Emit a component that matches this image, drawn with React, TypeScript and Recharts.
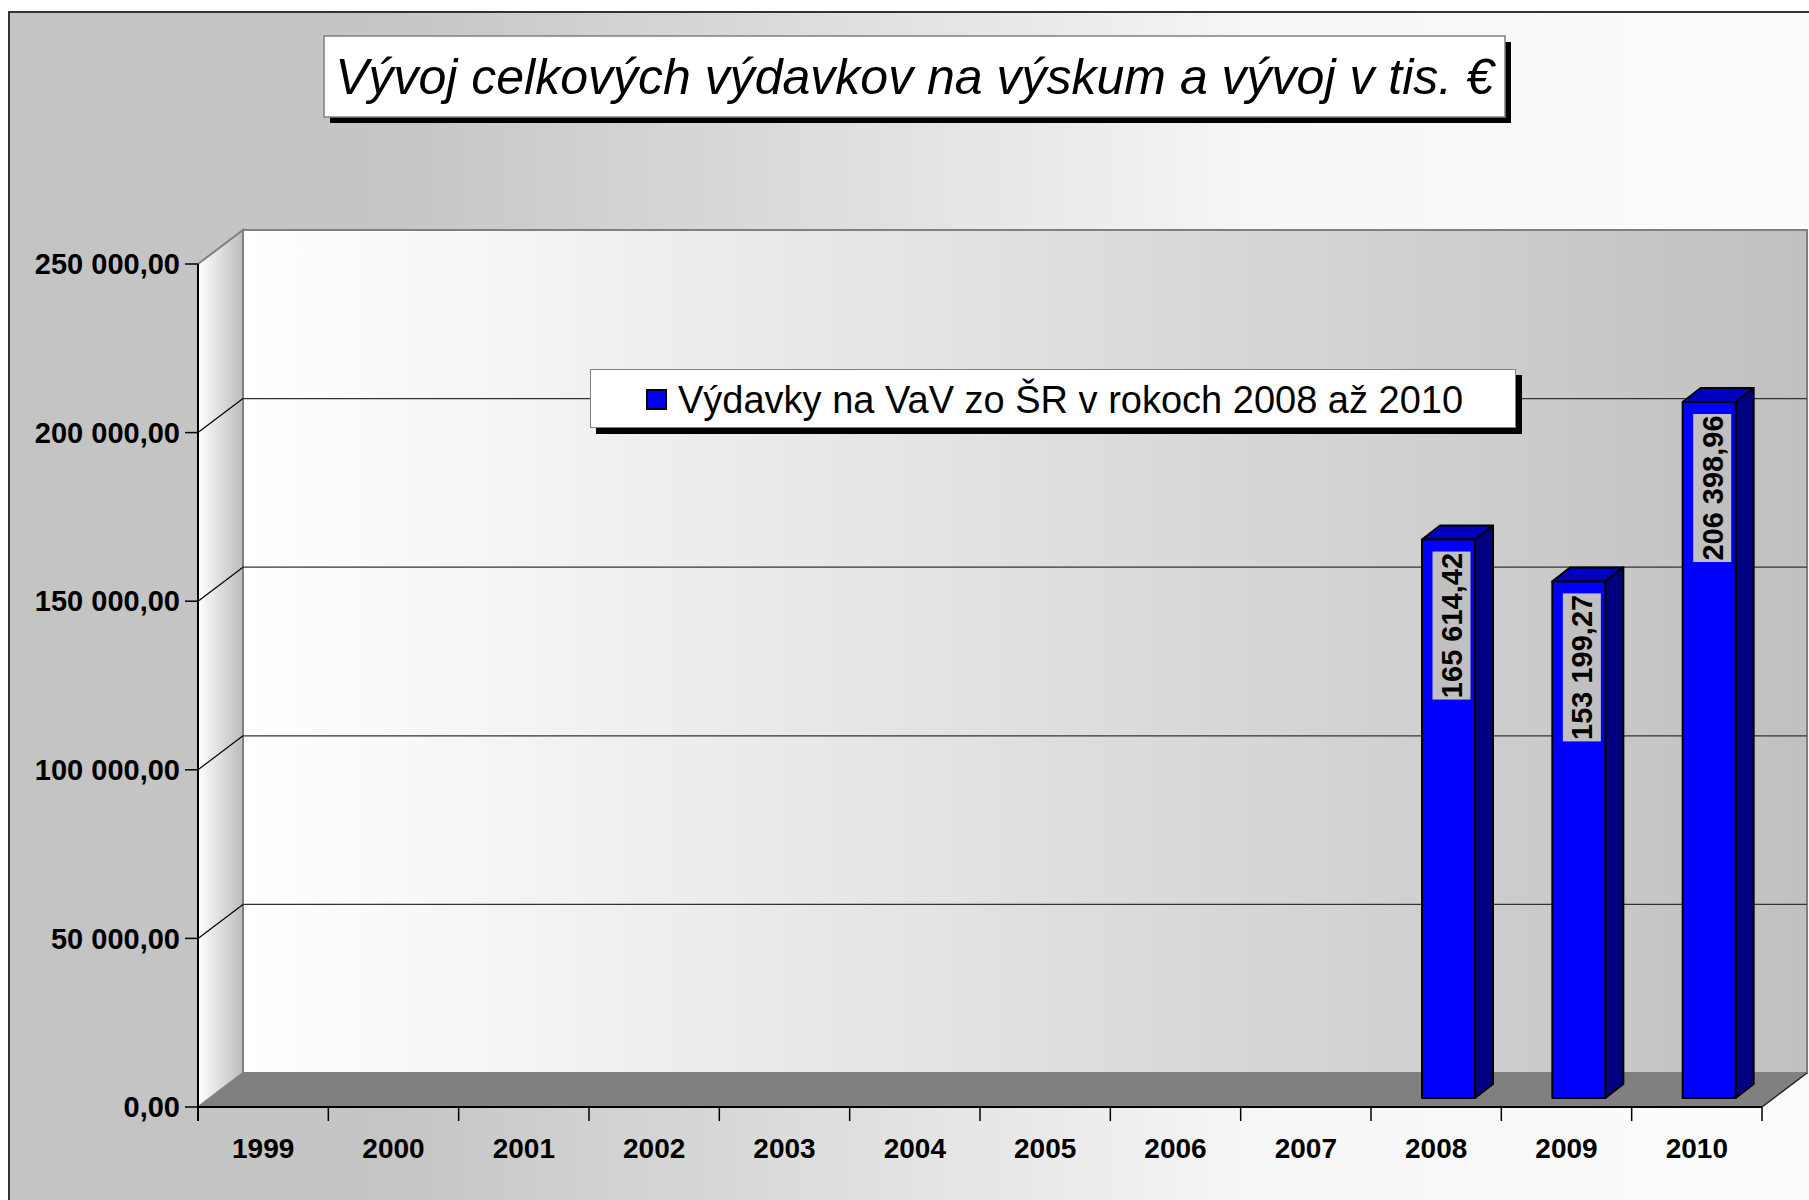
import { Bar, BarChart, CartesianGrid, LabelList, Legend, XAxis, YAxis } from "recharts";

const years = ["1999", "2000", "2001", "2002", "2003", "2004", "2005", "2006", "2007", "2008", "2009", "2010"];
const spending: (number | null)[] = [null, null, null, null, null, null, null, null, null, 165614.42, 153199.27, 206398.96];
const yTicks = [0, 50000, 100000, 150000, 200000, 250000];
const seriesName = "Výdavky na VaV zo ŠR v rokoch 2008 až 2010";
const chartTitle = "Vývoj celkových výdavkov na výskum a vývoj v tis. €";

const data = years.map((year, i) => ({ year, value: spending[i] }));

const FONT = "'Liberation Sans', Arial, Helvetica, sans-serif";
const W = 1809;
const H = 1200;
// front plane of the 3d box
const PLOT_L = 198;
const PLOT_R = 1762;
const PLOT_T = 264;
const PLOT_B = 1107;
// wall depth
const DX = 45;
const DY = 34;
// bars stand in the middle of the depth
const BAR_DX = 12;
const BAR_DY = 9;
const SIDE_X = 18;
const SIDE_Y = 14;

function fmt(v: number) {
  const [int, dec] = v.toFixed(2).split(".");
  return int.replace(/\B(?=(\d{3})+(?!\d))/g, " ") + "," + dec;
}

function Bar3D(props: any) {
  const { x, y, width, height } = props;
  if (!height || height <= 0) return <g />;
  const fx = x + BAR_DX;
  const fy = y - BAR_DY;
  const rx = fx + width;
  return (
    <g stroke="#000" strokeWidth={2} strokeLinejoin="round">
      <polygon
        points={`${rx},${fy} ${rx + SIDE_X},${fy - SIDE_Y} ${rx + SIDE_X},${fy + height - SIDE_Y} ${rx},${fy + height}`}
        fill="#000080"
      />
      <polygon
        points={`${fx},${fy} ${fx + SIDE_X},${fy - SIDE_Y} ${rx + SIDE_X},${fy - SIDE_Y} ${rx},${fy}`}
        fill="#0000c0"
      />
      <rect x={fx} y={fy} width={width} height={height} fill="#0000ff" />
    </g>
  );
}

function BarLabel(props: any) {
  const { x, y, width, value } = props;
  if (value == null) return null;
  const cx = x + BAR_DX + width / 2 + 3;
  const top = y - BAR_DY + 12;
  const boxW = 38;
  const boxH = 148;
  return (
    <g>
      <rect x={cx - boxW / 2} y={top} width={boxW} height={boxH} fill="#c0c0c0" />
      <text
        transform={`translate(${cx + 10.5},${top + boxH / 2}) rotate(-90)`}
        textAnchor="middle"
        fontSize={29}
        fontWeight={700}
        fontFamily={FONT}
        fill="#000"
      >
        {fmt(Number(value))}
      </text>
    </g>
  );
}

function GridLine(p: any) {
  const { x1, x2, y1 } = p;
  if (y1 <= PLOT_T + 1 || y1 >= PLOT_B - 1) return <g key={p.key} />;
  return (
    <g key={p.key}>
      <line x1={x1} y1={y1} x2={x1 + DX} y2={y1 - DY} stroke="#000" strokeWidth={1.2} />
      <line x1={x1 + DX} y1={y1 - DY} x2={x2 + DX} y2={y1 - DY} stroke="#333" strokeWidth={1.3} />
    </g>
  );
}

function YearTick(p: any) {
  const { x, y, payload, index } = p;
  const half = payload && payload.offset > 0 ? payload.offset : (PLOT_R - PLOT_L) / years.length / 2;
  const last = index === years.length - 1;
  return (
    <g>
      <line x1={x - half} y1={y - 14} x2={x - half} y2={y} stroke="#000" strokeWidth={1.5} />
      {last && <line x1={x + half} y1={y - 14} x2={x + half} y2={y} stroke="#000" strokeWidth={1.5} />}
      <text x={x} y={y + 37} textAnchor="middle" fontSize={28} fontWeight={700} fontFamily={FONT} fill="#000">
        {payload.value}
      </text>
    </g>
  );
}

function LegendBox(props: any) {
  const name = props?.payload?.[0]?.value ?? seriesName;
  return (
    <div
      style={{
        width: 926,
        height: 59,
        boxSizing: "border-box",
        background: "#fff",
        border: "1px solid #808080",
        boxShadow: "6px 6px 0 #000",
        display: "flex",
        alignItems: "center",
        fontFamily: FONT,
        fontSize: 38,
        lineHeight: 1,
        color: "#000",
        paddingTop: 2,
      }}
    >
      <span
        style={{
          display: "inline-block",
          width: 17,
          height: 17,
          background: "#0000ff",
          border: "2px solid #000",
          marginLeft: 55,
          marginRight: 11,
        }}
      />
      <span>{name}</span>
    </div>
  );
}

function Backdrop() {
  return (
    <svg width={W} height={H} style={{ position: "absolute", left: 0, top: 0 }}>
      <defs>
        <linearGradient id="pageBg" x1="0" y1="0" x2="1" y2="0">
          <stop offset="0%" stopColor="#c3c3c3" />
          <stop offset="22%" stopColor="#c6c6c6" />
          <stop offset="70%" stopColor="#f7f7f7" />
          <stop offset="100%" stopColor="#fcfcfc" />
        </linearGradient>
        <linearGradient id="backWall" x1="0" y1="0" x2="1" y2="0">
          <stop offset="0%" stopColor="#ffffff" />
          <stop offset="100%" stopColor="#c0c0c0" />
        </linearGradient>
        <linearGradient id="sideWall" gradientUnits="userSpaceOnUse" x1={PLOT_L} y1="0" x2={PLOT_L + DX} y2="0">
          <stop offset="0%" stopColor="#ffffff" />
          <stop offset="100%" stopColor="#bcbcbc" />
        </linearGradient>
      </defs>
      <rect x={9} y={12} width={W} height={H} fill="url(#pageBg)" stroke="#333" strokeWidth={2} />

      <rect x={330} y={42} width={1181} height={81} fill="#000" />
      <rect x={324} y={36} width={1181} height={81} fill="#fff" stroke="#808080" strokeWidth={1.5} />
      <text x={914.5} y={94} textAnchor="middle" fontSize={50} fontStyle="italic" fontFamily={FONT} fill="#000">
        {chartTitle}
      </text>

      <rect
        x={PLOT_L + DX}
        y={PLOT_T - DY}
        width={PLOT_R - PLOT_L}
        height={PLOT_B - PLOT_T}
        fill="url(#backWall)"
        stroke="#808080"
        strokeWidth={2}
      />
      <polygon
        points={`${PLOT_L},${PLOT_T} ${PLOT_L + DX},${PLOT_T - DY} ${PLOT_L + DX},${PLOT_B - DY} ${PLOT_L},${PLOT_B}`}
        fill="url(#sideWall)"
        stroke="#808080"
        strokeWidth={2}
      />
      <polygon
        points={`${PLOT_L},${PLOT_B} ${PLOT_L + DX},${PLOT_B - DY} ${PLOT_R + DX},${PLOT_B - DY} ${PLOT_R},${PLOT_B}`}
        fill="#808080"
      />
      <line x1={PLOT_R} y1={PLOT_B} x2={PLOT_R + DX} y2={PLOT_B - DY} stroke="#222" strokeWidth={1.5} />
      <line x1={PLOT_L} y1={PLOT_B} x2={PLOT_L} y2={PLOT_B + 14} stroke="#000" strokeWidth={2} />
    </svg>
  );
}

export default function App() {
  return (
    <div style={{ position: "absolute", left: 0, top: 0, width: W, height: H, overflow: "hidden" }}>
      <Backdrop />
      <div style={{ position: "absolute", left: 0, top: 0 }}>
        <BarChart
          width={W}
          height={H}
          data={data}
          margin={{ top: PLOT_T, right: W - PLOT_R, bottom: H - PLOT_B - 60, left: PLOT_L - 190 }}
        >
          <CartesianGrid vertical={false} horizontal={GridLine} stroke="#333" />
          <XAxis
            dataKey="year"
            height={60}
            interval={0}
            tickLine={false}
            tickSize={14}
            tickMargin={0}
            axisLine={{ stroke: "#000", strokeWidth: 2 }}
            tick={(p: any) => <YearTick {...p} />}
          />
          <YAxis
            width={190}
            domain={[0, 250000]}
            ticks={yTicks}
            interval={0}
            tickFormatter={fmt}
            tickSize={13}
            tickMargin={5}
            tickLine={{ stroke: "#000", strokeWidth: 1.5 }}
            axisLine={{ stroke: "#000", strokeWidth: 2 }}
            tick={{ fill: "#000", fontSize: 29, fontWeight: 700, fontFamily: FONT }}
          />
          <Legend
            layout="horizontal"
            verticalAlign="middle"
            align="center"
            wrapperStyle={{ position: "absolute", left: 590, top: 369, width: 926, height: 59 }}
            content={(p: any) => <LegendBox {...p} />}
          />
          <Bar dataKey="value" name={seriesName} barSize={53} shape={(p: any) => <Bar3D {...p} />} isAnimationActive={false}>
            <LabelList dataKey="value" content={(p: any) => <BarLabel {...p} />} />
          </Bar>
        </BarChart>
      </div>
    </div>
  );
}
